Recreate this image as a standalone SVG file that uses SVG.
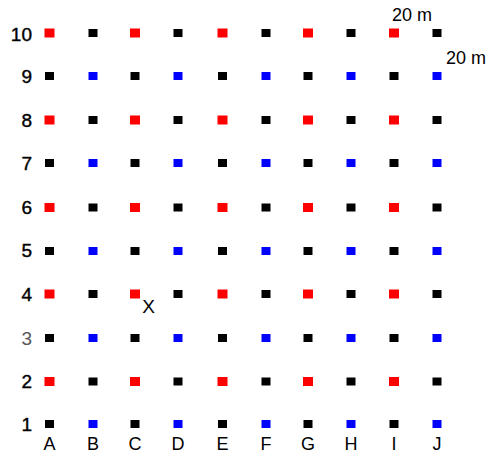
<svg xmlns="http://www.w3.org/2000/svg" width="491" height="456" viewBox="0 0 491 456">
<style>
text{font-family:"Liberation Sans",Arial,sans-serif;fill:#000}
.n{font-size:19px;text-anchor:end;stroke:#000;stroke-width:0.4}
.l{font-size:18px;text-anchor:middle}
.s{font-size:18px}
.r{fill:#ff0000}
.b{fill:#0000ff}
.k{fill:#000}
</style>
<rect width="491" height="456" fill="#fff"/>
<defs>
<rect id="sq" x="-4.5" y="-4" width="9" height="8"/>
<rect id="sqr" x="-5" y="-4.5" width="10" height="9"/>
</defs>
<g id="rowlabels">
<text class="n" x="32" y="41">10</text>
<text class="n" x="32" y="83">9</text>
<text class="n" x="32" y="127">8</text>
<text class="n" x="32" y="170">7</text>
<text class="n" x="32" y="214">6</text>
<text class="n" x="32" y="257">5</text>
<text class="n" x="32" y="301">4</text>
<text class="n" x="32" y="345" style="stroke:none;fill:#555">3</text>
<text class="n" x="32" y="388">2</text>
<text class="n" x="32" y="431">1</text>
</g>
<g id="collabels">
<text class="l" x="49.5" y="450">A</text>
<text class="l" x="93" y="450">B</text>
<text class="l" x="135" y="450">C</text>
<text class="l" x="178" y="450">D</text>
<text class="l" x="222.5" y="450">E</text>
<text class="l" x="266" y="450">F</text>
<text class="l" x="308" y="450">G</text>
<text class="l" x="351" y="450">H</text>
<text class="l" x="394" y="450">I</text>
<text class="l" x="437" y="450">J</text>
</g>
<g id="scale">
<text class="s" x="392" y="21">20 m</text>
<text class="s" x="446" y="64">20 m</text>
</g>
<g id="markX"><text class="l" x="148.5" y="313" style="font-size:19px">X</text></g>
<g id="grid">
<g id="row10" transform="translate(0,33)">
<use href="#sqr" class="r" x="49.5"/><use href="#sq" class="k" x="93"/><use href="#sqr" class="r" x="135"/><use href="#sq" class="k" x="178"/><use href="#sqr" class="r" x="222.5"/><use href="#sq" class="k" x="266"/><use href="#sqr" class="r" x="308"/><use href="#sq" class="k" x="351"/><use href="#sqr" class="r" x="394"/><use href="#sq" class="k" x="437"/>
</g>
<g id="row9" transform="translate(0,76)">
<use href="#sq" class="k" x="49.5"/><use href="#sq" class="b" x="93"/><use href="#sq" class="k" x="135"/><use href="#sq" class="b" x="178"/><use href="#sq" class="k" x="222.5"/><use href="#sq" class="b" x="266"/><use href="#sq" class="k" x="308"/><use href="#sq" class="b" x="351"/><use href="#sq" class="k" x="394"/><use href="#sq" class="b" x="437"/>
</g>
<g id="row8" transform="translate(0,120)">
<use href="#sqr" class="r" x="49.5"/><use href="#sq" class="k" x="93"/><use href="#sqr" class="r" x="135"/><use href="#sq" class="k" x="178"/><use href="#sqr" class="r" x="222.5"/><use href="#sq" class="k" x="266"/><use href="#sqr" class="r" x="308"/><use href="#sq" class="k" x="351"/><use href="#sqr" class="r" x="394"/><use href="#sq" class="k" x="437"/>
</g>
<g id="row7" transform="translate(0,163)">
<use href="#sq" class="k" x="49.5"/><use href="#sq" class="b" x="93"/><use href="#sq" class="k" x="135"/><use href="#sq" class="b" x="178"/><use href="#sq" class="k" x="222.5"/><use href="#sq" class="b" x="266"/><use href="#sq" class="k" x="308"/><use href="#sq" class="b" x="351"/><use href="#sq" class="k" x="394"/><use href="#sq" class="b" x="437"/>
</g>
<g id="row6" transform="translate(0,207.5)">
<use href="#sqr" class="r" x="49.5"/><use href="#sq" class="k" x="93"/><use href="#sqr" class="r" x="135"/><use href="#sq" class="k" x="178"/><use href="#sqr" class="r" x="222.5"/><use href="#sq" class="k" x="266"/><use href="#sqr" class="r" x="308"/><use href="#sq" class="k" x="351"/><use href="#sqr" class="r" x="394"/><use href="#sq" class="k" x="437"/>
</g>
<g id="row5" transform="translate(0,251)">
<use href="#sq" class="k" x="49.5"/><use href="#sq" class="b" x="93"/><use href="#sq" class="k" x="135"/><use href="#sq" class="b" x="178"/><use href="#sq" class="k" x="222.5"/><use href="#sq" class="b" x="266"/><use href="#sq" class="k" x="308"/><use href="#sq" class="b" x="351"/><use href="#sq" class="k" x="394"/><use href="#sq" class="b" x="437"/>
</g>
<g id="row4" transform="translate(0,294)">
<use href="#sqr" class="r" x="49.5"/><use href="#sq" class="k" x="93"/><use href="#sqr" class="r" x="135"/><use href="#sq" class="k" x="178"/><use href="#sqr" class="r" x="222.5"/><use href="#sq" class="k" x="266"/><use href="#sqr" class="r" x="308"/><use href="#sq" class="k" x="351"/><use href="#sqr" class="r" x="394"/><use href="#sq" class="k" x="437"/>
</g>
<g id="row3" transform="translate(0,338)">
<use href="#sq" class="k" x="49.5"/><use href="#sq" class="b" x="93"/><use href="#sq" class="k" x="135"/><use href="#sq" class="b" x="178"/><use href="#sq" class="k" x="222.5"/><use href="#sq" class="b" x="266"/><use href="#sq" class="k" x="308"/><use href="#sq" class="b" x="351"/><use href="#sq" class="k" x="394"/><use href="#sq" class="b" x="437"/>
</g>
<g id="row2" transform="translate(0,381.5)">
<use href="#sqr" class="r" x="49.5"/><use href="#sq" class="k" x="93"/><use href="#sqr" class="r" x="135"/><use href="#sq" class="k" x="178"/><use href="#sqr" class="r" x="222.5"/><use href="#sq" class="k" x="266"/><use href="#sqr" class="r" x="308"/><use href="#sq" class="k" x="351"/><use href="#sqr" class="r" x="394"/><use href="#sq" class="k" x="437"/>
</g>
<g id="row1" transform="translate(0,424)">
<use href="#sq" class="k" x="49.5"/><use href="#sq" class="b" x="93"/><use href="#sq" class="k" x="135"/><use href="#sq" class="b" x="178"/><use href="#sq" class="k" x="222.5"/><use href="#sq" class="b" x="266"/><use href="#sq" class="k" x="308"/><use href="#sq" class="b" x="351"/><use href="#sq" class="k" x="394"/><use href="#sq" class="b" x="437"/>
</g>
</g>
</svg>
